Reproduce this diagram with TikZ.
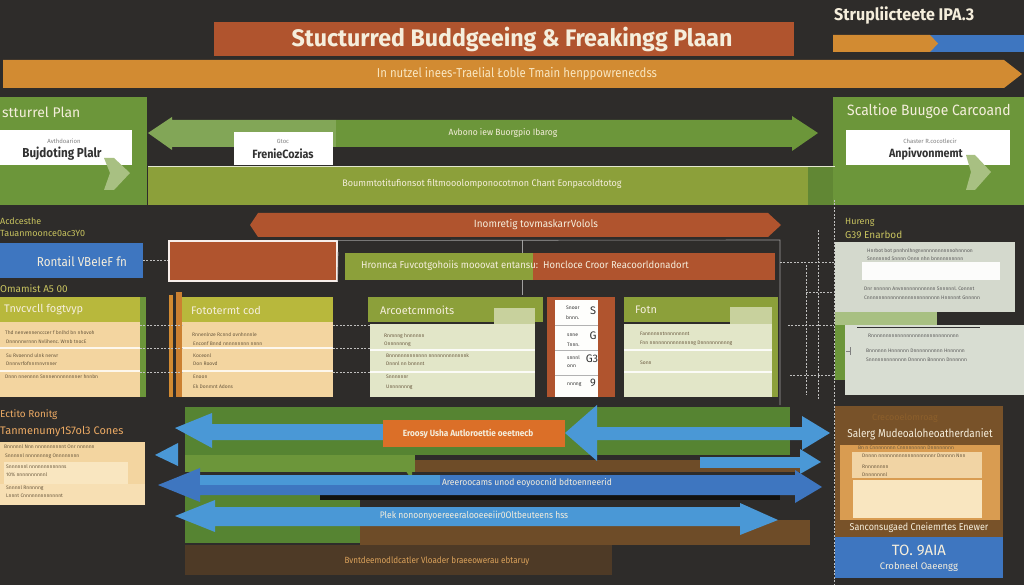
\documentclass[tikz,border=0pt]{standalone}
\usepackage{fontspec}
\setmainfont{Fira Sans}
\usetikzlibrary{fit}
\definecolor{bg}{RGB}{46,44,42}
\definecolor{rust}{RGB}{176,84,46}
\definecolor{orng}{RGB}{210,139,50}
\definecolor{blu}{RGB}{62,118,192}
\definecolor{lblu}{RGB}{74,152,214}
\definecolor{grn}{RGB}{108,150,58}
\definecolor{dgrn}{RGB}{86,132,50}
\definecolor{olive}{RGB}{140,160,58}
\definecolor{ygrn}{RGB}{184,184,60}
\definecolor{peach}{RGB}{243,213,160}
\definecolor{lpeach}{RGB}{249,230,192}
\definecolor{cream}{RGB}{245,238,220}
\definecolor{creambox}{RGB}{226,230,200}
\definecolor{greybox}{RGB}{212,217,205}
\definecolor{brn}{RGB}{110,76,40}
\definecolor{dbrn}{RGB}{78,58,38}
\definecolor{ytext}{RGB}{200,195,95}
\definecolor{ptext}{RGB}{236,170,100}
\definecolor{smalltxt}{RGB}{105,88,62}
\definecolor{pgrn}{RGB}{168,192,130}
\definecolor{darktxt}{RGB}{50,50,50}
\newcommand\bx[4]{\node[fit={#2 #3}, inner sep=0pt, outer sep=0pt, fill=#4] (#1) {};}
\newcommand\fs[1]{\fontsize{#1}{#1}\selectfont}
\begin{document}
\begin{tikzpicture}[x=1bp,y=-1bp,
  lbl/.style={inner sep=0pt, text=cream},
  tiny/.style={inner sep=0pt, anchor=west, text=smalltxt, font=\fs{5}},
  dashline/.style={draw=white!70!bg, line width=0.5pt, dash pattern=on 2pt off 1.5pt},
  thinline/.style={draw=white!55!bg, line width=0.6pt}]
\useasboundingbox (0,0) rectangle (1024,585);
\fill[bg] (0,0) rectangle (1024,585);

% ---------- top ----------
\bx{title}{(214,22)}{(794,56)}{rust}
\node[lbl, font=\fs{24}\bfseries, xscale=0.97] (titletxt) at (512,39) {Stucturred Buddgeeing \& Freakingg Plaan};
\node[lbl, anchor=west, font=\fs{17}\bfseries, xscale=0.95] (toprt) at (834,16) {Strupliicteete IPA.3};
\fill[blu] (930,35) rectangle (1024,52);
\fill[orng] (833,35) -- (930,35) -- (938,43.5) -- (930,52) -- (833,52) -- cycle;
\fill[orng] (3,60) -- (1004,60) -- (1022,74) -- (1004,88) -- (3,88) -- cycle;
\node[lbl, text=lpeach, font=\fs{13}, xscale=0.88] (bandtxt) at (517,74) {In nutzel inees-Traelial Łoble Tmain henppowrenecdss};

% ---------- green row ----------
\bx{lgreen}{(0,97)}{(147,205)}{grn}
\bx{band}{(148,167)}{(808,205)}{olive}
\bx{rgreen}{(833,97)}{(1024,205)}{grn}
\fill[grn!90!black] (808,167) rectangle (833,205);
\draw[thinline, draw=white!75!olive] (148,166.5) -- (835,166.5);
\node[lbl, anchor=west, font=\fs{14}] (lgtxt) at (2,112) {stturrel Plan};
\bx{lwhite}{(0,130)}{(132,165)}{white}
\node[lbl, text=gray, font=\fs{6}] (lw1) at (64,141) {Avthdoarion};
\node[lbl, text=darktxt, font=\fs{13}\bfseries, xscale=0.9] (lw2) at (62,154) {Bujdoting Plalr};
\fill[pgrn] (104,158) -- (114,158) -- (130,173) -- (114,190) -- (104,190) -- (110,173) -- cycle;
% left/right green arrow
\fill[grn!85!white] (148,133) -- (172,117) -- (172,120) -- (336,120) -- (336,147) -- (172,147) -- (172,150) -- cycle;
\fill[grn] (336,120) -- (792,120) -- (792,116) -- (818,133) -- (792,151) -- (792,147) -- (336,147) -- cycle;
\node[lbl, font=\fs{9}, xscale=0.95] (garrtxt) at (503,133) {Avbono iew Buorgpio Ibarog};
\bx{mwhite}{(234,132)}{(333,165)}{white}
\node[lbl, text=gray, font=\fs{6}] (mw1) at (283,141) {Gtoc};
\node[lbl, text=darktxt, font=\fs{12}\bfseries, xscale=0.9] (mw2) at (283,154) {FrenieCozias};
\node[lbl, font=\fs{9.5}, xscale=0.95] (bandtext) at (482,184) {Boummtotitufionsot filtmooolomponocotmon Chant Eonpacoldtotog};
\node[lbl, anchor=west, font=\fs{15}, xscale=0.93] (rgtxt) at (847,111) {Scaltioe Buugoe Carcoand};
\bx{rwhite}{(846,130)}{(1010,165)}{white}
\node[lbl, text=gray, font=\fs{6}] (rw1) at (930,141) {Chaster R.cocotlecir};
\node[lbl, text=darktxt, font=\fs{12}\bfseries, xscale=0.9] (rw2) at (926,154) {Anpivvonmemt};
\fill[pgrn] (966,155) -- (975,155) -- (991,172) -- (975,190) -- (966,190) -- (971,172) -- cycle;

% ---------- middle ----------
\node[lbl, anchor=west, text=ytext, font=\fs{9}] (ml1) at (0,221) {Acdcesthe};
\node[lbl, anchor=west, text=ytext, font=\fs{9}] (ml2) at (0,233) {Tauanmoonce0ac3Y0};
\bx{rental}{(0,243)}{(143,278)}{blu}
\node[lbl, font=\fs{13}, xscale=0.9] (rentaltxt) at (82,262) {Rontail VBeIeF fn};
\node[lbl, anchor=west, text=ytext, font=\fs{10}] (ml3) at (0,289) {Omamist A5 00};
\fill[rust] (258,213) -- (768,213) -- (781,225) -- (768,237) -- (258,237) -- (250,225) -- cycle;
\node[lbl, font=\fs{10.5}, xscale=0.95] (rusttxt) at (536,225) {Inomretig tovmaskarrVolols};
\node[fit={(169,241) (337,281)}, inner sep=0pt, fill=rust, draw=white!90!rust, line width=1.2pt] (rustbox) {};
\draw[dashline] (rental.east) -- (rustbox.west |- rental.east);
\draw[thinline] (rustbox.north east) -- (780,240) -- (780,405);
\draw[thinline] (rustbox.south east) -- (338,252);
\draw[thinline] (522,240) -- (522,295);
\bx{gbar}{(345,253)}{(533,280)}{olive}
\bx{obar}{(533,253)}{(775,280)}{rust}
\node[lbl, font=\fs{10}, xscale=0.95] (bartxt) at (525,266) {Hronnca Fuvcotgohoiis mooovat entansu:\ \ Honcloce Croor Reacoorldonadort};

% ---------- box row ----------
% box A
\bx{ahead}{(0,297)}{(143,322)}{ygrn}
\bx{abody}{(0,322)}{(140,397)}{peach}
\fill[grn] (140,297) rectangle (146,397);
\node[lbl, anchor=west, font=\fs{11}] (ahtxt) at (4,310) {Tnvcvcll fogtvyp};
\draw[white!80!peach, line width=1.5pt] (0,348) -- (140,348) (0,371) -- (140,371);
\node[tiny] (a1) at (5,333) {Thd nenvennencccer f bnlhd bn nhovoh};
\node[tiny] (a2) at (6,342) {Dnnnnnvrnnn Nvlihenc.\ Wrnb tnocE};
\node[tiny] (a3) at (6,356) {Su Rvoennd ulnk nenvr};
\node[tiny] (a4) at (6,364) {Dnnnvrfofnnrnnvrnner};
\node[tiny] (a5) at (5,377) {Dnnn nnennnn Snnnennnnnnnner hnnbn};
% box B
\fill[orng] (169,295) rectangle (173,397);
\fill[orng!80!rust] (176,292) rectangle (182,397);
\bx{bhead}{(182,297)}{(333,322)}{ygrn}
\bx{bbody}{(182,322)}{(333,397)}{peach}
\node[lbl, anchor=west, font=\fs{11}] (bhtxt) at (191,310) {Fototermt cod};
\draw[white!80!peach, line width=1.5pt] (182,348) -- (333,348) (182,371) -- (333,371);
\node[tiny] (b1) at (192,335) {Rnnenlnze Rcnnd ovnhnnnle};
\node[tiny] (b2) at (193,344) {Enconf Bnnd nnnnnnnnn nnnn};
\node[tiny] (b3) at (193,356) {Koceonl};
\node[tiny] (b4) at (193,364) {Don Roovd};
\node[tiny] (b5) at (193,377) {Enoon};
\node[tiny] (b6) at (193,387) {Ek Donmnt Adons};
% box C
\bx{chead}{(368,297)}{(543,322)}{olive}
\fill[creambox!70!olive] (494,308) rectangle (535,324);
\bx{cbody}{(370,324)}{(535,397)}{creambox}
\node[lbl, anchor=west, font=\fs{11}] (chtxt) at (380,310) {Arcoetcmmoits};
\draw[white!85!creambox, line width=1.5pt] (370,350) -- (535,350) (370,372) -- (535,372);
\node[tiny] (c1) at (384,336) {Rnmnng hnnnnnn};
\node[tiny] (c2) at (384,344) {Onnnnnnng};
\node[tiny] (c3) at (386,356) {Bnnnnnnnnnnnnn nnnnnnnnnnnnnk};
\node[tiny] (c4) at (386,364) {Dnnnl nn bnnnnt};
\node[tiny] (c5) at (386,377) {Snnnnnnr};
\node[tiny] (c6) at (386,387) {Unnnnnnng};
% box D
\bx{dbox}{(547,297)}{(615,397)}{rust}
\bx{dstrip}{(555,300)}{(598,397)}{white!95!creambox}
\draw[gray!60, line width=0.5pt] (555,325) -- (598,325) (555,350) -- (598,350) (555,375) -- (598,375);
\node[tiny, text=darktxt] (d1) at (566,308) {Snoor};
\node[tiny, text=darktxt] (d1b) at (566,318) {bnnn.};
\node[lbl, text=darktxt, font=\fs{11}] (d1n) at (593,311) {S};
\node[tiny, text=darktxt] (d2) at (567,335) {snne};
\node[tiny, text=darktxt] (d2b) at (567,345) {Tnnn.};
\node[lbl, text=darktxt, font=\fs{11}] (d2n) at (593,336) {G};
\node[tiny, text=darktxt] (d3) at (567,358) {snnnl};
\node[tiny, text=darktxt] (d3b) at (567,366) {onn};
\node[lbl, text=darktxt, font=\fs{11}] (d3n) at (592,359) {G3};
\node[tiny, text=darktxt] (d4) at (567,385) {nnnng};
\node[lbl, text=darktxt, font=\fs{11}] (d4n) at (593,383) {9};
% box E
\bx{ehead}{(624,297)}{(778,322)}{olive}
\fill[creambox!70!olive] (730,307) rectangle (772,324);
\bx{ebody}{(624,324)}{(772,397)}{creambox}
\fill[olive] (772,322) rectangle (778,397);
\node[lbl, anchor=west, font=\fs{11}] (ehtxt) at (635,310) {Fotn};
\draw[white!85!creambox, line width=1.5pt] (624,350) -- (772,350) (624,372) -- (772,372);
\node[tiny] (e1) at (640,334) {Fannnnnntnnnnnnnnt};
\node[tiny] (e2) at (640,343) {Fnn nnnnnnnnnnnnnnng Dnnnnnnnnnng};
\node[tiny] (e3) at (640,363) {Sonn};
% connectors between boxes
\foreach \yy in {325,348,372} {
  \draw[dashline] (abody.east |- 0,\yy) -- (bbody.west |- 0,\yy);
  \draw[dashline] (bbody.east |- 0,\yy) -- (cbody.west |- 0,\yy);
}
% right side
\node[lbl, anchor=west, text=ytext, font=\fs{9}] (rt1) at (845,222) {Hureng};
\node[lbl, anchor=west, text=ytext, font=\fs{10}] (rt2) at (845,235) {G39 Enarbod};
\bx{fbox}{(835,242)}{(1015,312)}{greybox}
\fill[white!92!greybox] (862,262) rectangle (1000,280);
\node[tiny, text=gray!70!black] (f1) at (867,251) {Hnrbot bot pnnhnlhngnvnnnnnnnnnnohnnnon};
\node[tiny, text=gray!70!black] (f2) at (867,259) {Snnnnnnd Snnnn Onnn nhn bnnnnnnnnnn};
\node[tiny, text=gray!70!black] (f3) at (864,289) {Dnr nnnnnn Anvnnnnnnnnnnnn Snnnnnl.\ Connnt};
\node[tiny, text=gray!70!black] (f4) at (864,298) {Cnnnnnnnnnnnnnnnnnnnnnnnnn Hnnnnnt Gnnnnn};
\fill[pgrn] (835,312) rectangle (937,325);
\bx{gbox}{(845,325)}{(1024,395)}{greybox!90!white}
\fill[grn] (835,325) rectangle (845,380);
\draw[darktxt, line width=0.8pt] (857,327) -- (980,327);
\node[tiny, text=gray!70!black] (g1) at (868,336) {Rnnnnnnnnnnnnnnnnnnnnnnnnnnnnnn};
\node[tiny, text=gray!70!black] (g2) at (866,351) {Bnnnnnn Hnnnnnn Dnnnnnnnnnn Hnnnnnn};
\node[tiny, text=gray!70!black] (g3) at (866,360) {Snnnnnnnnnnnnn Dnnnnn Bnnnnn Dnnnnnn};
\draw[gray, line width=0.6pt] (846,351) -- (850,351) (850,347) -- (850,355);
% dashed grid
\draw[dashline] (834,200) -- (834,585);
\draw[dashline] (818,230) -- (818,400);
\draw[dashline] (806,265) -- (806,395);
\draw[dashline] (780,262) -- (fbox.west |- 0,262);
\draw[dashline] (806,292) -- (fbox.west |- 0,292);
\draw[dashline] (788,325) -- (834,325);
\draw[dashline] (790,375) -- (834,375);

% ---------- bottom ----------
\node[lbl, anchor=west, text=ptext, font=\fs{10}] (bl1) at (0,415) {Ectito Ronitg};
\node[lbl, anchor=west, text=ptext, font=\fs{11}] (bl2) at (0,432) {Tanmenumy1S7ol3 Cones};
\bx{pbox}{(0,442)}{(145,505)}{peach}
\fill[lpeach] (4,462) rectangle (128,484);
\fill[lpeach!60!peach] (0,484) rectangle (145,505);
\node[tiny] (p1) at (4,447) {Bnnnnnl Nnn nnnnnnnnnnt Onr nnnnnn};
\node[tiny] (p2) at (5,456) {Snnnnnl nnnnnnnng Onnnnnnnn};
\node[tiny] (p3) at (6,467) {Snnnnnnl nnnnnnnnnnnns};
\node[tiny] (p4) at (6,475) {10\% nnnnnnnnnnl};
\node[tiny] (p5) at (6,488) {Snnnnl Rnnnnng};
\node[tiny] (p6) at (6,496) {Lnnnt Cnnnnnnnnnnnnnt};
% layered bands
\fill[dgrn] (185,407) rectangle (790,455);
\fill[grn] (185,455) rectangle (415,472);
\fill[brn] (415,460) rectangle (800,472);
\fill[dgrn] (185,494) rectangle (360,543);
\fill[brn] (360,520) rectangle (810,545);
\fill[black!60!bg] (320,494) rectangle (780,500);
\fill[dbrn] (185,545) rectangle (612,575);
\node[lbl, text=orng!80!white, font=\fs{9}, xscale=0.9] (bottxt) at (437,561) {Bvntdeemodldcatler Vloader braeeowerau ebtaruy};
% blue arrows
\fill[lblu] (175,428) -- (212,413) -- (212,424) -- (385,424) -- (385,440) -- (212,440) -- (212,448) -- cycle;
\bx{obox}{(383,420)}{(565,447)}{orng!80!red}
\node[lbl, font=\fs{9}\bfseries, xscale=0.92] (oboxtxt) at (468,434) {Eroosy Usha Autloroettie oeetnecb};
\fill[lblu] (565,433) -- (597,405) -- (597,427) -- (802,427) -- (802,416) -- (830,433) -- (802,450) -- (802,440) -- (597,440) -- (597,461) -- cycle;
\fill[lblu] (155,455) -- (178,443) -- (178,466) -- cycle;
\fill[lblu] (700,457) rectangle (800,468);
\fill[lblu] (800,449) -- (821,462) -- (800,474) -- cycle;
\fill[grn] (395,455) -- (412,455) -- (412,480) -- cycle;
\fill[blu] (158,485) -- (200,468) -- (200,475) -- (795,475) -- (795,470) -- (822,487) -- (795,503) -- (795,495) -- (200,495) -- (200,502) -- cycle;
\fill[lblu] (200,475) rectangle (440,485);
\node[lbl, font=\fs{9}, xscale=0.95] (bluetxt) at (527,483) {Areeroocams unod eoyoocnid bdtoenneerid};
\fill[lblu] (175,516) -- (215,500) -- (215,507) -- (740,507) -- (740,503) -- (778,520) -- (740,535) -- (740,526) -- (215,526) -- (215,532) -- cycle;
\node[lbl, font=\fs{9.5}, xscale=0.9] (blue2txt) at (474,516) {Plek nonoonyoereeeralooeeeiir0Oltbeuteens hss};
% right bottom
\bx{rbbox}{(835,406)}{(1003,537)}{brn!90!orng}
\node[lbl, text=brn!70!orng, font=\fs{9}] (rbfaint) at (905,418) {Crecooelomroag};
\node[lbl, font=\fs{11.5}, xscale=0.87] (rbtxt) at (920,434) {Salerg Mudeoaloheoatherdaniet};
\bx{rbor}{(840,445)}{(1000,520)}{orng!85!white}
\fill[lpeach!80!orng] (852,452) rectangle (982,478);
\fill[lpeach] (853,480) rectangle (982,518);
\node[tiny] (r1) at (858,448) {Bn n Cnnnnnnnn Cnnnnnnnnn Dnnnnnnnn};
\node[tiny] (r2) at (862,456) {Dnnnn nnnnnnnnnnnnnnnnnnnr Dnnnnn Nnn};
\node[tiny] (r3) at (862,467) {Rnnnnnnnn};
\node[tiny] (r4) at (862,475) {Dnnnnnnnl};
\node[lbl, font=\fs{10}, xscale=0.9] (rbtxt2) at (919,528) {Sanconsugaed Cneiemrtes Enewer};
\bx{rblue}{(835,537)}{(1003,578)}{blu}
\node[lbl, font=\fs{15}] (rbl1) at (919,550) {TO. 9AIA};
\node[lbl, font=\fs{9.5}] (rbl2) at (919,567) {Crobneel Oaeengg};
\end{tikzpicture}
\end{document}
